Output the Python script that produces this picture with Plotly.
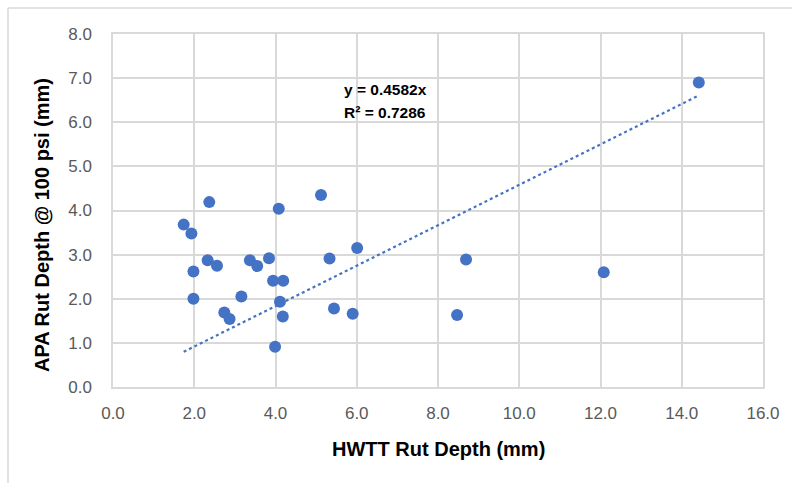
import plotly.graph_objects as go

hwtt = [1.74, 1.93, 2.37, 4.08, 5.12, 1.98, 2.33, 2.56, 3.37, 3.55, 3.84, 3.94, 4.19, 5.33,
        6.01, 1.98, 3.16, 2.74, 2.87, 4.11, 4.18, 5.44, 5.90, 3.99, 14.42, 8.69, 12.08, 8.47]
apa = [3.68, 3.48, 4.19, 4.04, 4.35, 2.62, 2.87, 2.75, 2.87, 2.74, 2.92, 2.41, 2.41, 2.91,
       3.15, 2.00, 2.05, 1.69, 1.54, 1.93, 1.60, 1.78, 1.66, 0.91, 6.90, 2.89, 2.60, 1.63]
slope = 0.4582
r2 = 0.7286
x_ticks = [0, 2, 4, 6, 8, 10, 12, 14, 16]
y_ticks = [0, 1, 2, 3, 4, 5, 6, 7, 8]

blue = "#4472C4"
grid = "#d9d9d9"
font = "Liberation Sans"

L, R, T, B = 113, 763, 34, 387
W, H = R - L, B - T


def px(x):
    return (x - L) / W


def py(y):
    return (B - y) / H


fig = go.Figure()
xmin, xmax = min(hwtt), max(hwtt)
fig.add_trace(go.Scatter(x=[xmin, xmax], y=[slope * xmin, slope * xmax], mode="lines",
                         line=dict(color=blue, width=2.2, dash="dot"), hoverinfo="skip",
                         showlegend=False))
fig.add_trace(go.Scatter(x=hwtt, y=apa, mode="markers",
                         marker=dict(color=blue, size=12), showlegend=False))

fig.add_annotation(x=px(342), y=py(89), xref="paper", yref="paper",
                   xanchor="left", yanchor="middle", showarrow=False,
                   text=f"<b>y = {slope}x</b>", font=dict(family=font, size=15.5, color="#000000"))
fig.add_annotation(x=px(342), y=py(112), xref="paper", yref="paper",
                   xanchor="left", yanchor="middle", showarrow=False,
                   text=f"<b>R² = {r2}</b>", font=dict(family=font, size=15.5, color="#000000"))

# axis titles
fig.add_annotation(x=px(438), y=py(449), xref="paper", yref="paper",
                   xanchor="center", yanchor="middle", showarrow=False,
                   text="<b>HWTT Rut Depth (mm)</b>", font=dict(family=font, size=20, color="#000000"))
fig.add_annotation(x=px(42), y=py(225), xref="paper", yref="paper", textangle=-90,
                   xanchor="center", yanchor="middle", showarrow=False,
                   text="<b>APA Rut Depth @ 100 psi (mm)</b>", font=dict(family=font, size=20, color="#000000"))

# outer chart border (top and left visible)
fig.add_shape(type="line", xref="paper", yref="paper", x0=px(8), x1=px(800),
              y0=py(8), y1=py(8), line=dict(color="#d9d9d9", width=1.5))
fig.add_shape(type="line", xref="paper", yref="paper", x0=px(8), x1=px(8),
              y0=py(8), y1=py(490), line=dict(color="#d9d9d9", width=1.5))

fig.update_layout(
    width=792, height=483,
    margin=dict(l=L, r=792 - R, t=T, b=483 - B),
    paper_bgcolor="white", plot_bgcolor="white",
    font=dict(family=font, color="#595959"),
)
fig.update_xaxes(range=[0, 16], tickvals=x_ticks, ticktext=[f"{v:.1f}" for v in x_ticks],
                 showgrid=True, gridcolor=grid, gridwidth=1.5, zeroline=False,
                 showline=True, linecolor=grid, linewidth=1.5, mirror=True,
                 ticks="", ticklabelstandoff=10, tickfont=dict(size=17, color="#595959"))
fig.update_yaxes(range=[0, 8], tickvals=y_ticks, ticktext=[f"{v:.1f}" for v in y_ticks],
                 showgrid=True, gridcolor=grid, gridwidth=1.5, zeroline=False,
                 showline=True, linecolor=grid, linewidth=1.5, mirror=True,
                 ticks="", ticklabelstandoff=16, tickfont=dict(size=17, color="#595959"))

fig.write_html("out.html")
